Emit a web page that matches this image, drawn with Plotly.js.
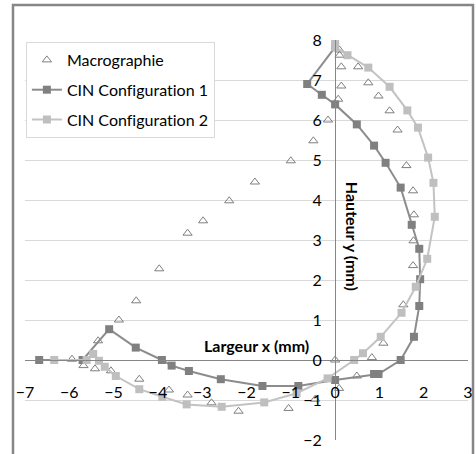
<!DOCTYPE html>
<html>
<head>
<meta charset="utf-8">
<script src="https://cdn.plot.ly/plotly-3.0.1.min.js"></script>
<style>html,body{margin:0;padding:0;background:#fff;}#chart{width:476px;height:454px;}
svg text{font-variant-ligatures:none;font-feature-settings:"liga" 0, "clig" 0;}</style>
</head>
<body>
<div id="chart"></div>
<script>
// Macrographie (open triangles)
const macroX = [-5.94,-5.68,-5.42,-5.35,-5.06,-4.88,-4.49,-4.42,-3.97,-3.75,-3.33,-3.33,-2.98,-2.79,-2.39,-2.18,-1.81,-1.05,-1.00,-0.49,-0.45,-0.16,0.00,0.09,0.07,0.14,0.14,0.10,0.10,0.52,0.75,0.98,1.23,1.41,1.61,1.76,1.78,1.77,1.76,1.54,1.09,0.83,0.49];
const macroY = [0.02,-0.14,-0.22,0.48,-0.27,1.00,1.48,-0.48,2.28,-0.75,3.17,-0.875,3.48,-1.07,3.98,-1.28,4.45,-1.21,4.98,5.48,-0.98,6.00,0.00,-0.71,6.52,6.85,7.33,7.62,7.75,7.33,6.93,6.60,6.23,5.75,4.86,4.23,3.63,2.98,2.36,1.38,0.42,0.06,-0.40];

// CIN Configuration 1
const cin1X = [-6.68,-5.70,-5.10,-4.50,-3.91,-3.69,-3.30,-2.58,-1.64,-0.83,0.00,0.88,0.98,1.48,1.78,1.90,1.92,1.90,1.73,1.48,1.14,0.88,0.49,0.00,-0.30,-0.63,0.00];
const cin1Y = [0.00,0.00,0.77,0.31,0.00,-0.14,-0.275,-0.48,-0.65,-0.65,-0.50,-0.35,-0.35,0.00,0.58,1.35,2.02,2.78,3.38,4.31,4.93,5.36,5.89,6.39,6.63,6.90,7.82];

// CIN Configuration 2
const cin2X = [-6.34,-5.61,-5.46,-5.33,-5.20,-4.95,-4.42,-3.90,-3.35,-2.56,-1.60,-0.87,-0.17,0.43,0.63,1.03,1.50,1.82,2.08,2.25,2.22,2.10,1.87,1.63,1.23,0.75,0.28,0.00,0.00];
const cin2Y = [0.00,0.00,0.15,-0.02,-0.17,-0.40,-0.73,-0.92,-1.11,-1.17,-1.06,-0.83,-0.46,0.00,0.17,0.58,1.18,1.83,2.53,3.58,4.43,5.06,5.81,6.24,6.83,7.31,7.62,7.82,7.97];

const seriesNames = ["Macrographie","CIN Configuration 1","CIN Configuration 2"];
const xTitle = "Largeur x (mm)";
const yTitle = "Hauteur y (mm)";

const FONT = "Lato, 'Noto Sans', sans-serif";
const FS = 16;

const traces = [
  {x: macroX, y: macroY, name: seriesNames[0], type: 'scatter', mode: 'markers', legendgroup: 'a',
   marker: {symbol: 'triangle-up-open', size: 8, color: '#7f7f7f', line: {width: 1, color: '#7f7f7f'}}},
  {x: cin1X, y: cin1Y, name: seriesNames[1], type: 'scatter', mode: 'lines+markers', legendgroup: 'b',
   line: {color: '#8c8c8c', width: 2}, marker: {symbol: 'square', size: 8, color: '#808080'}},
  {x: cin2X, y: cin2Y, name: seriesNames[2], type: 'scatter', mode: 'lines+markers', legendgroup: 'c',
   line: {color: '#c3c3c3', width: 2}, marker: {symbol: 'square', size: 8, color: '#bfbfbf'}}
];

const layout = {
  width: 476, height: 454,
  margin: {l: 25, r: 8, t: 40, b: 14},
  paper_bgcolor: '#ffffff', plot_bgcolor: '#ffffff',
  font: {family: FONT, size: FS, color: '#000'},
  showlegend: true,
  legend: {x: 0.002, y: 0.995, xanchor: 'left', yanchor: 'top', bgcolor: '#ffffff',
           bordercolor: '#d9d9d9', borderwidth: 1, tracegroupgap: 6, entrywidth: 195,
           font: {family: FONT, size: FS, color: '#000'}},
  xaxis: {range: [-7, 3], dtick: 1, tick0: 0, anchor: 'free', position: 0.2,
          showline: true, linecolor: '#868686', linewidth: 1, showgrid: false, zeroline: false,
          ticks: 'outside', ticklen: 18, tickcolor: 'rgba(0,0,0,0)', tickfont: {family: FONT, size: FS}},
  yaxis: {range: [-2, 8], dtick: 1, tick0: 0, anchor: 'free', position: 0.7,
          showline: true, linecolor: '#868686', linewidth: 1, showgrid: true, gridcolor: '#d9d9d9',
          zeroline: false, ticks: 'outside', ticklen: 10, tickcolor: 'rgba(0,0,0,0)',
          tickfont: {family: FONT, size: FS}},
  annotations: [
    {x: -1.78, y: 0.375, xref: 'x', yref: 'y', text: '<b>' + xTitle + '</b>', showarrow: false,
     font: {family: FONT, size: FS, color: '#000'}},
    {x: 0.38, y: 3.08, xref: 'x', yref: 'y', text: '<b>' + yTitle + '</b>', showarrow: false, textangle: 90,
     font: {family: FONT, size: FS, color: '#000'}}
  ],
  shapes: [
    {type: 'rect', xref: 'paper', yref: 'paper', x0: -0.0271, x1: 1.0113, y0: -0.2, y1: 1.0875,
     line: {color: '#868686', width: 2.5}, fillcolor: 'rgba(0,0,0,0)', layer: 'below'}
  ]
};

Plotly.newPlot('chart', traces, layout, {displayModeBar: false, staticPlot: true});
</script>
</body>
</html>
